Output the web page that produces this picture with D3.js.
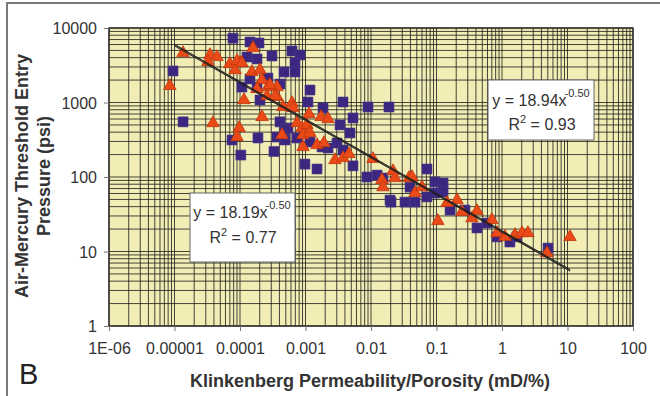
<!DOCTYPE html>
<html><head><meta charset="utf-8">
<script src="https://cdn.jsdelivr.net/npm/d3@7"></script>
<style>html,body{margin:0;padding:0;background:#fff;}svg{display:block;font-family:Arial,"Liberation Sans",sans-serif;}</style>
</head><body>
<script>
// ---- data ----
const xTickValues = [1e-6, 1e-5, 1e-4, 1e-3, 1e-2, 1e-1, 1, 10, 100];
const xTickLabels = ["1E-06", "0.00001", "0.0001", "0.001", "0.01", "0.1", "1", "10", "100"];
const yTickValues = [1, 10, 100, 1000, 10000];
const yTickLabels = ["1", "10", "100", "1000", "10000"];

// purple squares
const squareX = [9.5e-6, 1.35e-5, 7.8e-5, 1.42e-4, 1.95e-4, 1.28e-4, 1.82e-4, 3.08e-4, 6.22e-4, 8.24e-4,
  6.92e-4, 4.7e-4, 6.92e-4, 1.42e-4, 2.67e-4, 4.08e-4, 1.07e-4, 1.82e-4, 2.02e-4, 1.17e-3,
  1.09e-3, 1.85e-3, 3.74e-3, 9.0e-3, 1.88e-2, 5.31e-3, 4.08e-4, 5.4e-4, 3.37e-3, 4.78e-3,
  7.55e-5, 1.88e-4, 3.67e-4, 3.3e-4, 1.03e-4, 9.8e-4, 1.5e-3, 5.31e-3, 3.03e-3, 2.21e-3,
  3.74e-3, 8.69e-3, 1.24e-2, 1.95e-2, 3.94e-2, 7.16e-2, 9.5e-2, 0.126, 0.126, 9.5e-2,
  2.02e-2, 3.3e-2, 4.7e-2, 1.52e-2, 0.161, 0.272, 0.415, 0.59, 0.84, 1.32,
  1.69, 5.04, 4.86e-4, 7.41e-4, 1.17e-3, 1.79e-3, 7.16e-2, 4.86e-4];
const squareY = [2650, 550, 7300, 6490, 6290, 4080, 3840, 4210, 4910, 4340,
  3390, 2570, 2570, 2070, 2130, 1770, 1610, 1610, 1080, 1470,
  1015, 845, 1015, 870, 870, 620, 550, 455, 500, 390,
  314, 334, 344, 220, 197, 149, 128, 141, 286, 245,
  230, 100, 106, 49, 73, 128, 86, 83, 63, 61,
  46, 46, 46, 97, 36, 36, 20.7, 24.1, 15.7, 13.4,
  15.7, 11.1, 314, 334, 295, 253, 54, 430];

// orange triangles
const triX = [1.35e-5, 8.5e-6, 3.87e-5, 3.48e-5, 4.46e-5, 3.24e-5, 1.58e-4, 7.0e-5, 1.0e-4, 8.4e-5,
  1.52e-4, 2.02e-4, 2.17e-4, 2.67e-4, 3.67e-4, 1.82e-4, 3.67e-4, 1.15e-4, 2.58e-4, 4.53e-4,
  6.22e-4, 6.44e-4, 1.13e-3, 1.73e-3, 2.21e-3, 2.17e-4, 9.7e-5, 9.0e-5, 7.41e-4, 8.85e-4,
  1.05e-3, 4.38e-4, 9.16e-4, 1.17e-3, 9.16e-4, 1.5e-3, 1.91e-3, 2.82e-3, 3.74e-3, 4.61e-3,
  1.07e-2, 1.47e-2, 1.52e-2, 2.17e-2, 2.32e-2, 3.8e-2, 4.7e-2, 6.0e-2, 0.145, 0.206,
  0.245, 0.415, 0.348, 0.105, 0.70, 0.84, 1.11, 1.58, 2.02, 2.49,
  4.86, 10.9, 9.0e-5, 1.07e-4, 2.87e-4, 3.42e-4, 4.23e-2];
const triY = [4620, 1670, 530, 4340, 4080, 3500, 5390, 3290, 3390, 2730,
  2570, 2730, 2000, 1610, 1610, 1520, 1190, 1080, 1220, 870,
  985, 845, 700, 640, 600, 640, 455, 344, 530, 455,
  500, 366, 366, 390, 253, 269, 286, 169, 180, 204,
  175, 91, 73, 120, 97, 97, 61, 73, 45, 49,
  34, 35, 28, 25.7, 26.5, 17.7, 15.7, 16.7, 17.7, 17.7,
  9.5, 15.7, 3610, 3390, 1720, 1220, 100];

// power-law fits y = a x^b
const fitA = [18.94, 18.19];
const fitB = [-0.50, -0.50];
const fitRange = [1e-5, 11];
const eqText = [["y = 18.94x", "-0.50", "R", "2", " = 0.93"], ["y = 18.19x", "-0.50", "R", "2", " = 0.77"]];

// ---- drawing ----
const W = 660, H = 396;
const svg = d3.select("body").append("svg").attr("width", W).attr("height", H);

// outer frame (top & left visible)
svg.append("rect").attr("x", 7).attr("y", 3).attr("width", 700).attr("height", 450)
  .attr("fill", "none").attr("stroke", "#7a7a7a").attr("stroke-width", 2);

const L = 109, R = 633, T = 28, B = 326;
const x = d3.scaleLog().domain([1e-6, 100]).range([L, R]);
const y = d3.scaleLog().domain([1, 10000]).range([B, T]);

svg.append("rect").attr("x", L).attr("y", T).attr("width", R - L).attr("height", B - T).attr("fill", "#f1edb4");

const gridX = d3.range(-6, 2).flatMap(e => d3.range(1, 10).map(k => k * Math.pow(10, e))).concat([100]);
const gridY = d3.range(0, 4).flatMap(e => d3.range(1, 10).map(k => k * Math.pow(10, e))).concat([10000]);
const grid = svg.append("g").attr("stroke", "#1a1a1a").attr("stroke-width", 1).attr("stroke-opacity", 0.8);
grid.selectAll(".gx").data(gridX).join("line")
  .attr("x1", d => x(d)).attr("x2", d => x(d)).attr("y1", T).attr("y2", B);
grid.selectAll(".gy").data(gridY).join("line")
  .attr("y1", d => y(d)).attr("y2", d => y(d)).attr("x1", L).attr("x2", R);

svg.append("rect").attr("x", L).attr("y", T).attr("width", R - L).attr("height", B - T)
  .attr("fill", "none").attr("stroke", "#333").attr("stroke-width", 1.5);

// axes
const xAxis = d3.axisBottom(x).tickValues(xTickValues).tickFormat((d, i) => xTickLabels[i]).tickSize(5).tickPadding(12);
const gx = svg.append("g").attr("transform", `translate(0,${B})`).call(xAxis);
const yAxis = d3.axisLeft(y).tickValues(yTickValues).tickFormat((d, i) => yTickLabels[i]).tickSize(5).tickPadding(7);
const gy = svg.append("g").attr("transform", `translate(${L},0)`).call(yAxis);
[gx, gy].forEach(g => {
  g.select(".domain").remove();
  g.selectAll(".tick line").attr("stroke", "#777");
  g.selectAll(".tick text").attr("fill", "#333").attr("font-size", 16).attr("font-family", "Arial, 'Liberation Sans', sans-serif");
});
gy.selectAll(".tick text").attr("dy", "0.36em");

// markers
const sq = d3.symbol().type(d3.symbolSquare).size(100);
svg.append("g").selectAll("path").data(squareX.map((v, i) => [v, squareY[i]])).join("path")
  .attr("d", sq).attr("transform", d => `translate(${x(d[0])},${y(d[1])})`)
  .attr("fill", "#3b2780").attr("stroke", "#4a3a8c").attr("stroke-width", 0.6);
const tri = d3.symbol().type(d3.symbolTriangle).size(68);
svg.append("g").selectAll("path").data(triX.map((v, i) => [v, triY[i]])).join("path")
  .attr("d", tri).attr("transform", d => `translate(${x(d[0])},${y(d[1])})`)
  .attr("fill", "#ea4a18").attr("stroke", "#c0360c").attr("stroke-width", 0.8);

// fit lines
const line = d3.line().x(d => x(d[0])).y(d => y(d[1]));
fitA.forEach((a, i) => {
  const pts = fitRange.map(v => [v, a * Math.pow(v, fitB[i])]);
  svg.append("path").attr("d", line(pts)).attr("fill", "none").attr("stroke", "#1e1e1e").attr("stroke-width", 1.1);
});

// equation boxes
const boxes = [{x: 488, y: 80, w: 106, h: 60, b1: 106, b2: 130, cx: 541},
               {x: 190, y: 193, w: 105, h: 69, b1: 218, b2: 243, cx: 242}];
boxes.forEach((bx, i) => {
  const g = svg.append("g");
  g.append("rect").attr("x", bx.x).attr("y", bx.y).attr("width", bx.w).attr("height", bx.h)
    .attr("fill", "#fff").attr("stroke", "#666").attr("stroke-width", 1);
  const t1 = g.append("text").attr("x", bx.cx).attr("y", bx.b1).attr("text-anchor", "middle")
    .attr("font-size", 16).attr("fill", "#333");
  t1.append("tspan").text(eqText[i][0]);
  t1.append("tspan").attr("font-size", 11).attr("dy", -9).attr("dx", -2).text(eqText[i][1]);
  const t2 = g.append("text").attr("x", bx.cx + 1).attr("y", bx.b2).attr("text-anchor", "middle")
    .attr("font-size", 16).attr("fill", "#333");
  t2.append("tspan").text(eqText[i][2]);
  t2.append("tspan").attr("font-size", 11).attr("dy", -7).text(eqText[i][3]);
  t2.append("tspan").attr("dy", 7).text(eqText[i][4]);
});

// axis titles
svg.append("text").attr("x", 370).attr("y", 387).attr("text-anchor", "middle")
  .attr("font-size", 18).attr("font-weight", "bold").attr("fill", "#333")
  .text("Klinkenberg Permeability/Porosity (mD/%)");
const yt = svg.append("text").attr("transform", "translate(28,176) rotate(-90)").attr("text-anchor", "middle")
  .attr("font-size", 18).attr("font-weight", "bold").attr("fill", "#333");
yt.append("tspan").attr("x", 0).attr("y", 0).text("Air-Mercury Threshold Entry");
yt.append("tspan").attr("x", 0).attr("y", 22).text("Pressure (psi)");

svg.append("text").attr("x", 19).attr("y", 384).attr("font-size", 29).attr("fill", "#222").text("B");
</script>
</body></html>
